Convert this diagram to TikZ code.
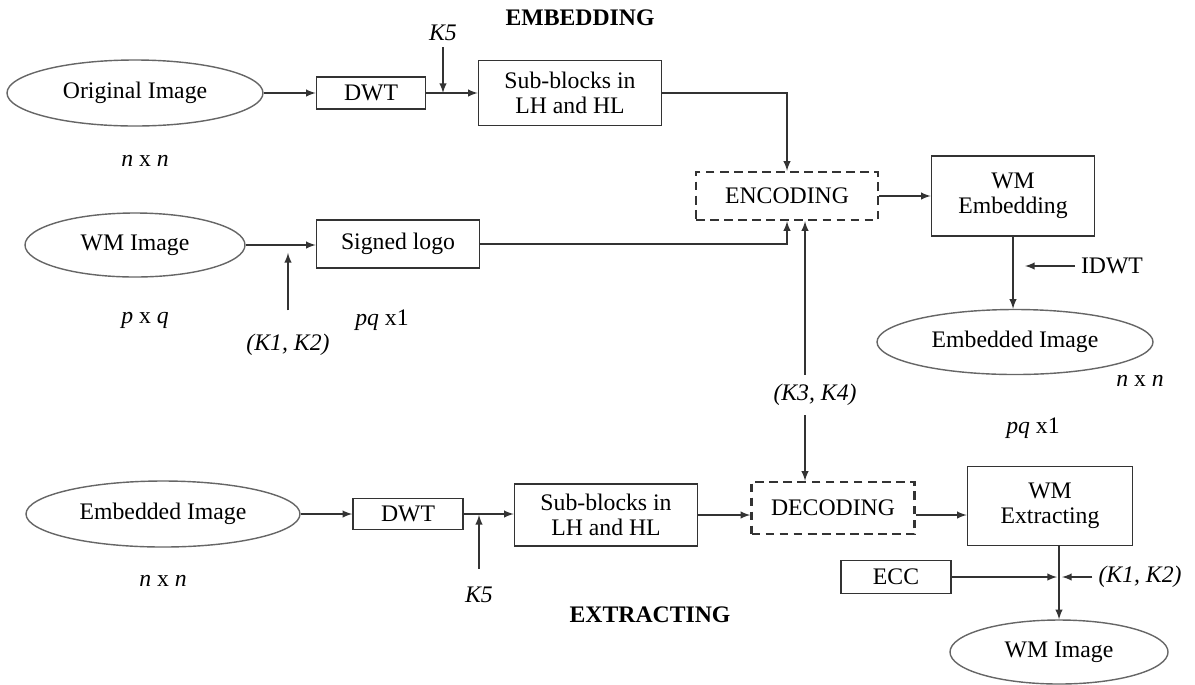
\documentclass[tikz,border=0pt]{standalone}
\usepackage{fontspec}
\setmainfont{Liberation Serif}
\usetikzlibrary{arrows}
\usetikzlibrary{shapes.geometric}
\usetikzlibrary{calc}
\newcommand{\dfont}{\fontsize{13.5}{14.5}\selectfont}

\tikzset{
  blk/.style 2 args={draw=black!80, line width=0.9pt, rectangle, align=center,
    minimum width=#1*0.02cm, minimum height=#2*0.02cm, inner sep=0pt},
  dblk/.style 2 args={blk={#1}{#2}, dash pattern=on 5pt off 3pt, line width=1.4pt},
  img/.style 2 args={draw=black!60, line width=0.8pt, ellipse,
    minimum width=#1*0.02cm, minimum height=#2*0.02cm, inner sep=0pt},
  lbl/.style={font=\dfont\itshape},
  ttl/.style={font=\dfont\bfseries},
  wire/.style={draw=black!80, line width=0.9pt},
}

\begin{document}
\begin{tikzpicture}[x=0.02cm, y=-0.02cm, font=\dfont]
\useasboundingbox (0,0) rectangle (1195,684);

%embedding part:
\node[ttl] (tEmb) at (580,18) {EMBEDDING};
\node[img={256}{66}] (orig) at (135,93) {Original Image};
\node[blk={109}{32}] (dwt1) at (371,93) {DWT};
\node[blk={183}{65}] (sub1) at (570,93) {Sub-blocks in\\LH and HL};
\node[dblk={182}{48}] (enc) at (787,196) {ENCODING};
\node[blk={163}{80}] (emb) at (1013,196) {WM\\Embedding};
\node[img={276}{65}] (embimg) at (1015,342) {Embedded Image};
\node[img={220}{64}] (wm1) at (135,245) {WM Image};
\node[blk={163}{48}] (logo) at (398,244) {Signed logo};
%labels
\node[lbl] (k5a) at (443,33) {K5};
\node (nn1) at (145,161) {\textit{n} x \textit{n}};
\node (pxq) at (145,320) {\textit{p} x \textit{q}};
\node[lbl] (k12a) at (288,345) {(K1, K2)};
\node (pq1) at (382,320) {\textit{pq} x1};
\node (idwt) at (1112,266) {IDWT};
\node (nn2) at (1140,381) {\textit{n} x \textit{n}};
\node (pq2) at (1033,428) {\textit{pq} x1};
\node[lbl] (k34) at (815,395) {(K3, K4)};
\coordinate (idwtin) at (1025,266);
\coordinate (k34top) at ($(enc.south)+(18,0)$);

%wires
\draw[wire,-latex] (orig.east) -- (dwt1.west);
\draw[wire,-latex] (dwt1.east) -- (sub1.west);
\draw[wire,-latex] (k5a.south) -- (k5a.south |- dwt1.east);
\draw[wire,-latex] (sub1.east) -| (enc.north);
\draw[wire,-latex] (wm1.east) -- (wm1.east -| logo.west);
\draw[wire,-latex,shorten <=10pt,shorten >=4.5pt] (k12a.north) -- (k12a.north |- wm1.east);
\draw[wire,-latex] (logo.east) -| (enc.south);
\draw[wire,-latex] (enc.east) -- (emb.west);
\draw[wire,-latex] (emb.south) -- (emb.south |- embimg.north);
\draw[wire,-latex] (idwt.west) -- (idwtin);

%extracting part:
\node[ttl] (tExt) at (650,615) {EXTRACTING};
\node[img={274}{66}] (embimg2) at (163,514) {Embedded Image};
\node[blk={110}{31}] (dwt2) at (408,514) {DWT};
\node[blk={183}{62}] (sub2) at (606,515) {Sub-blocks in\\LH and HL};
\node[dblk={163}{52}] (dec) at (833,508) {DECODING};
\node[blk={165}{79}] (ext) at (1050,506) {WM\\Extracting};
\node[blk={110}{33}] (ecc) at (896,577) {ECC};
\node[img={218}{64}] (wm2) at (1059,652) {WM Image};
%labels
\node (nn3) at (163,581) {\textit{n} x \textit{n}};
\node[lbl] (k5b) at (479,595) {K5};
\node[lbl] (k12b) at (1140,577) {(K1, K2)};
\coordinate (eccin) at (1057,577);
\coordinate (k12in) at (1062,577);

%wires
\draw[wire,-latex] (embimg2.east) -- (dwt2.west);
\draw[wire,-latex] (dwt2.east) -- (dwt2.east -| sub2.west);
\draw[wire,-latex,shorten <=7pt,shorten >=0.5pt] (k5b.north) -- (k5b.north |- dwt2.east);
\draw[wire,-latex] (sub2.east) -- (sub2.east -| dec.west);
\draw[wire,-latex] (dec.east |- sub2.east) -- (ext.west |- sub2.east);
\draw[wire,-latex,shorten <=2pt] (k34.north -| k34top) -- (k34top);
\draw[wire,-latex,shorten <=2pt] (k34.south -| k34top) -- (k34top |- dec.north);
\draw[wire,-latex] (wm2.north |- ext.south) -- (wm2.north);
\draw[wire,-latex] (ecc.east) -- (eccin);
\draw[wire,-latex] (k12b.west) -- (k12in);
\end{tikzpicture}
\end{document}
